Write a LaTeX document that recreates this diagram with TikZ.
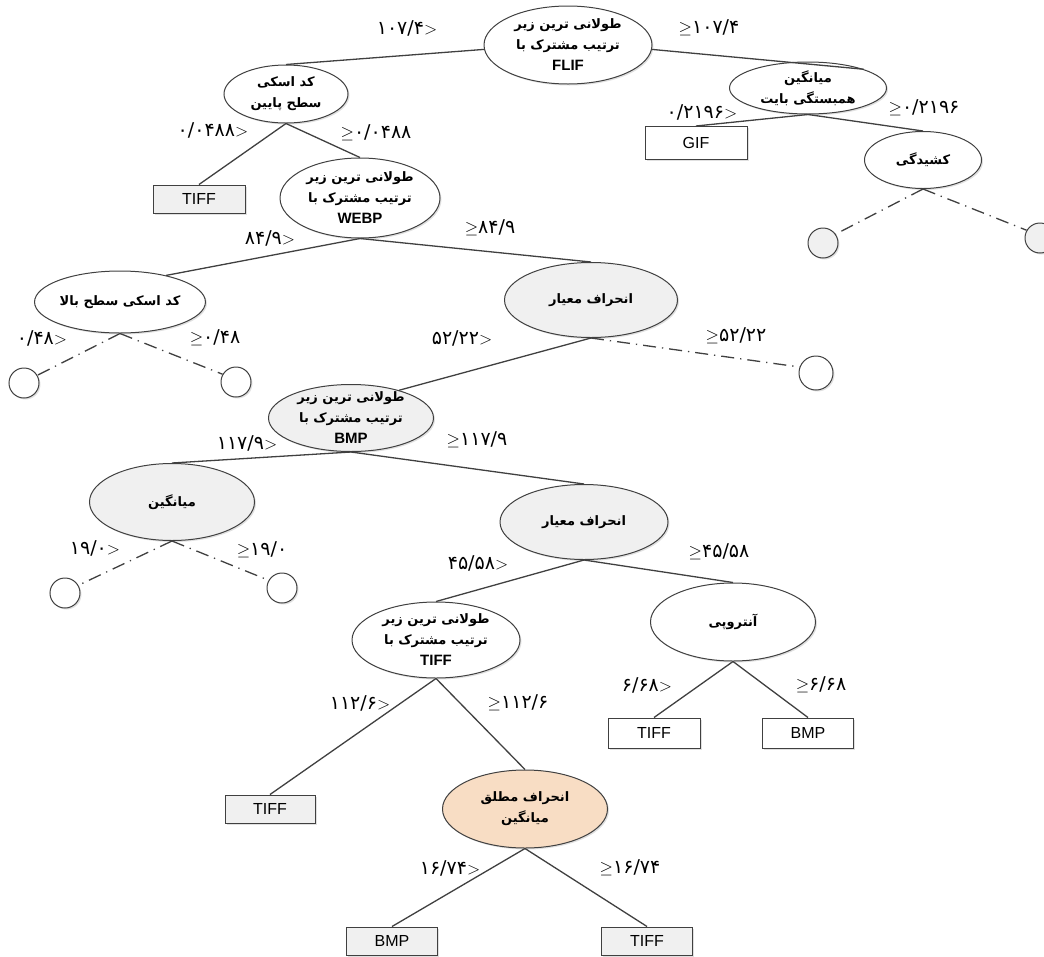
\documentclass[tikz,border=0pt]{standalone}
\usepackage{fontspec}
\setmainfont{Liberation Sans}
\newfontfamily\arabicfont[Script=Arabic]{DejaVu Sans}
\TeXXeTstate=1
\usetikzlibrary{shapes.geometric,shadows}
\usepackage{xcolor}
\definecolor{edgegray}{RGB}{64,64,64}
\definecolor{nodegray}{RGB}{240,240,240}
\definecolor{peach}{RGB}{248,221,196}
\newcommand{\prs}[1]{{\arabicfont\beginR #1\endR}}
\newcommand{\imgfmt}[1]{{\fontsize{15}{21}\selectfont #1}}
\newcommand{\ltlab}[1]{{\arabicfont #1}$>$}
\newcommand{\gelab}[1]{$\geq${\arabicfont #1}}

\begin{document}
\begin{tikzpicture}[x=1pt, y=-1pt,
    every node/.style={font=\fontsize{13}{21}\selectfont\bfseries},
    split/.style={ellipse, draw=edgegray, line width=1pt, fill=white, align=center,
        inner xsep=0pt, inner ysep=-10pt,
        drop shadow={shadow xshift=1.5pt, shadow yshift=-1.5pt, fill=black, opacity=0.12}},
    leaf/.style={rectangle, draw=edgegray, line width=1pt, fill=white, inner sep=0pt,
        font=\fontsize{16}{16}\selectfont,
        drop shadow={shadow xshift=1.5pt, shadow yshift=-1.5pt, fill=black, opacity=0.12}},
    stub/.style={circle, draw=edgegray, line width=1pt, fill=white, inner sep=0pt,
        drop shadow={shadow xshift=1.5pt, shadow yshift=-1.5pt, fill=black, opacity=0.12}},
    branch/.style={draw=edgegray, line width=1.3pt},
    pruned/.style={branch, dash pattern=on 13pt off 6pt on 1.3pt off 6pt},
    cut/.style={font=\fontsize{19}{19}\selectfont}]
    \useasboundingbox (0,0) rectangle (1044,956);

    % Split nodes
    \node[split, minimum width=168pt, minimum height=78pt] (root) at (568,45) {\prs{طولانی ترین زیر}\\\prs{ترتیب مشترک با}\\\imgfmt{FLIF}};
    \node[split, minimum width=124pt, minimum height=58pt] (kdlow) at (286,94) {\prs{کد اسکی}\\\prs{سطح پایین}};
    \node[split, minimum width=157pt, minimum height=52pt] (mcorr) at (808,88) {\prs{میانگین}\\\prs{همبستگی بایت}};
    \node[split, minimum width=117pt, minimum height=57pt] (kash) at (923,160) {\prs{کشیدگی}};
    \node[split, minimum width=160pt, minimum height=80pt] (webp) at (360,198) {\prs{طولانی ترین زیر}\\\prs{ترتیب مشترک با}\\\imgfmt{WEBP}};
    \node[split, minimum width=166pt, minimum height=62pt] (kdhigh) at (120,302) {\prs{کد اسکی سطح بالا}};
    \node[split, fill=nodegray, minimum width=173pt, minimum height=75pt] (std1) at (591,300) {\prs{انحراف معیار}};
    \node[split, fill=nodegray, minimum width=165pt, minimum height=67pt] (bmpn) at (351,418) {\prs{طولانی ترین زیر}\\\prs{ترتیب مشترک با}\\\imgfmt{BMP}};
    \node[split, fill=nodegray, minimum width=165pt, minimum height=77pt] (mean) at (172,502) {\prs{میانگین}};
    \node[split, fill=nodegray, minimum width=168pt, minimum height=75pt] (std2) at (584,522) {\prs{انحراف معیار}};
    \node[split, minimum width=168pt, minimum height=76pt] (tiffn) at (436,640) {\prs{طولانی ترین زیر}\\\prs{ترتیب مشترک با}\\\imgfmt{TIFF}};
    \node[split, minimum width=165pt, minimum height=78pt] (ent) at (733,622) {\prs{آنتروپی}};
    \node[split, fill=peach, minimum width=165pt, minimum height=78pt] (mad) at (525,809) {\prs{انحراف مطلق}\\\prs{میانگین}};

    % Leaves
    \node[leaf, minimum width=102pt, minimum height=33pt] (gif) at (696,143) {GIF};
    \node[leaf, fill=nodegray, minimum width=92pt, minimum height=28pt] (tiff1) at (199,199) {TIFF};
    \node[leaf, fill=nodegray, minimum width=90pt, minimum height=28pt] (tiff2) at (270,809) {TIFF};
    \node[leaf, minimum width=92pt, minimum height=30pt] (tiff3) at (654,733) {TIFF};
    \node[leaf, minimum width=91pt, minimum height=30pt] (bmp2) at (808,733) {BMP};
    \node[leaf, fill=nodegray, minimum width=91pt, minimum height=28pt] (bmp3) at (392,941) {BMP};
    \node[leaf, fill=nodegray, minimum width=91pt, minimum height=28pt] (tiff4) at (647,941) {TIFF};

    % Pruned subtrees
    \node[stub, fill=nodegray, minimum size=30pt] (kc1) at (823,243) {};
    \node[stub, fill=nodegray, minimum size=30pt] (kc2) at (1040,238) {};
    \node[stub, minimum size=30pt] (hc1) at (24,383) {};
    \node[stub, minimum size=30pt] (hc2) at (236,382) {};
    \node[stub, minimum size=34pt] (sc1) at (816,373) {};
    \node[stub, minimum size=30pt] (mc1) at (65,593) {};
    \node[stub, minimum size=30pt] (mc2) at (282,588) {};

    % Branches
    \draw[branch] (root.183) -- (kdlow.north);
    \draw[branch] (root.357) -- (mcorr.north east);
    \draw[branch] (mcorr.south) -- (gif.north);
    \draw[branch] (mcorr.south) -- (kash.north);
    \draw[branch] (kdlow.south) -- (tiff1.north);
    \draw[branch] (kdlow.south) -- (webp.north);
    \draw[branch] (webp.south) -- (kdhigh.30);
    \draw[branch] (webp.south) -- (std1.north);
    \draw[branch] (std1.south) -- (bmpn.30);
    \draw[branch] (bmpn.south) -- (mean.north);
    \draw[branch] (bmpn.south) -- (std2.north);
    \draw[branch] (std2.south) -- (tiffn.north);
    \draw[branch] (std2.south) -- (ent.north);
    \draw[branch] (tiffn.south) -- (tiff2.north);
    \draw[branch] (tiffn.south) -- (mad.north);
    \draw[branch] (ent.south) -- (tiff3.north);
    \draw[branch] (ent.south) -- (bmp2.north);
    \draw[branch] (mad.south) -- (bmp3.north);
    \draw[branch] (mad.south) -- (tiff4.north);
    \draw[pruned] (kash.south) -- (kc1.35);
    \draw[pruned] (kash.south) -- (kc2.150);
    \draw[pruned] (kdhigh.south) -- (hc1.30);
    \draw[pruned] (kdhigh.south) -- (hc2.150);
    \draw[pruned] (std1.south) -- (sc1.160);
    \draw[pruned] (mean.south) -- (mc1.30);
    \draw[pruned] (mean.south) -- (mc2.150);

    % Thresholds
    \node[cut] (t1) at (407,28) {\ltlab{۱۰۷/۴}};
    \node[cut] (t2) at (709,28) {\gelab{۱۰۷/۴}};
    \node[cut] (t3) at (213,130) {\ltlab{۰/۰۴۸۸}};
    \node[cut] (t4) at (376,133) {\gelab{۰/۰۴۸۸}};
    \node[cut] (t5) at (702,112) {\ltlab{۰/۲۱۹۶}};
    \node[cut] (t6) at (924,108) {\gelab{۰/۲۱۹۶}};
    \node[cut] (t7) at (270,238) {\ltlab{۸۴/۹}};
    \node[cut] (t8) at (490,228) {\gelab{۸۴/۹}};
    \node[cut] (t9) at (42,338) {\ltlab{۰/۴۸}};
    \node[cut] (t10) at (215,338) {\gelab{۰/۴۸}};
    \node[cut] (t11) at (462,338) {\ltlab{۵۲/۲۲}};
    \node[cut] (t12) at (736,336) {\gelab{۵۲/۲۲}};
    \node[cut] (t13) at (247,443) {\ltlab{۱۱۷/۹}};
    \node[cut] (t14) at (477,440) {\gelab{۱۱۷/۹}};
    \node[cut] (t15) at (95,548) {\ltlab{۱۹/۰}};
    \node[cut] (t16) at (262,550) {\gelab{۱۹/۰}};
    \node[cut] (t17) at (478,563) {\ltlab{۴۵/۵۸}};
    \node[cut] (t18) at (719,552) {\gelab{۴۵/۵۸}};
    \node[cut] (t19) at (360,703) {\ltlab{۱۱۲/۶}};
    \node[cut] (t20) at (518,703) {\gelab{۱۱۲/۶}};
    \node[cut] (t21) at (647,685) {\ltlab{۶/۶۸}};
    \node[cut] (t22) at (821,685) {\gelab{۶/۶۸}};
    \node[cut] (t23) at (450,868) {\ltlab{۱۶/۷۴}};
    \node[cut] (t24) at (630,868) {\gelab{۱۶/۷۴}};
\end{tikzpicture}
\end{document}
